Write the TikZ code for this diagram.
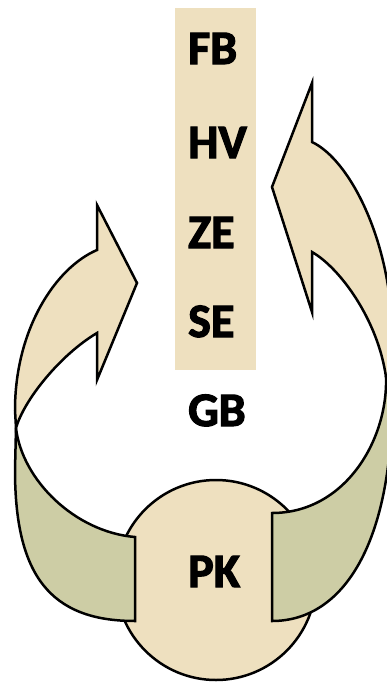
\documentclass[tikz,border=0pt]{standalone}
\usepackage{fontspec}
\setmainfont{Carlito}
\newfontfamily\lblfont[FakeBold=2.5]{Carlito Bold}
\definecolor{parch}{RGB}{238,224,191}
\definecolor{olivegreen}{RGB}{205,205,165}
\tikzset{
  outline/.style={draw=black, line width=2.5pt, line join=miter},
  tanpart/.style={outline, fill=parch},
  greenpart/.style={outline, fill=olivegreen},
  lbl/.style={font=\lblfont\fontsize{48}{48}\selectfont, inner sep=0pt, anchor=base west}
}
\begin{document}
\begin{tikzpicture}[x=1pt,y=-1pt]
\useasboundingbox (0,0) rectangle (387,683);
\clip (0,0) rectangle (387,683);
% column
\node (col) [fill=parch, minimum width=81pt, minimum height=362pt, inner sep=0pt] at (215.5,189) {};
% circle
\node (pkc) [circle, outline, fill=parch, minimum size=200pt, inner sep=0pt] at (216,580) {};
% left arrow: green back band
\draw[greenpart] (16,428) -- (15,470) .. controls (15,575) and (50,621) .. (135,621)
  -- (135,537) .. controls (75,532) and (22,480) .. (16,428) -- cycle;
% left arrow: tan front
\draw[tanpart] (16,428) .. controls (24,400) and (60,355) .. (97,333)
  -- (97,380) -- (137,283) -- (97,205) -- (97,250)
  .. controls (55,268) and (15,330) .. (15,410) -- cycle;
% right arrow: green back band
\draw[greenpart] (272,513) .. controls (345,513) and (388,440) .. (386,377)
  -- (392,377) -- (392,400) .. controls (392,540) and (345,621) .. (272,621) -- cycle;
% right arrow: tan front
\draw[tanpart] (386,377) .. controls (378,320) and (340,268) .. (312,252)
  -- (312,312) -- (272,187) -- (312,83) -- (312,142)
  .. controls (350,160) and (390,240) .. (392,330) -- (392,377) -- cycle;
% labels
\node (fb) [lbl] at (188,64) {FB};
\node (hv) [lbl] at (188,158) {HV};
\node (ze) [lbl] at (188,248) {ZE};
\node (se) [lbl] at (188,337) {SE};
\node (gb) [lbl] at (188,426) {GB};
\node (pk) [lbl] at (188,587) {PK};
\end{tikzpicture}
\end{document}
